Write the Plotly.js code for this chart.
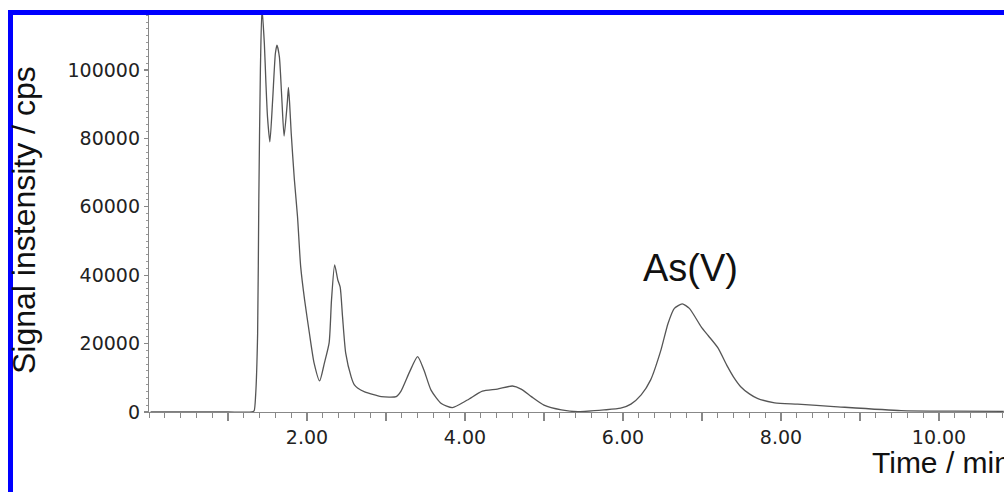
<!DOCTYPE html>
<html>
<head>
<meta charset="utf-8">
<script src="https://cdn.plot.ly/plotly-3.0.1.min.js"></script>
<style>html,body{margin:0;padding:0;background:#fff;}#chart{width:1004px;height:492px;}</style>
</head>
<body>
<div id="chart"></div>
<script>
// Retention time (min)
var time = [0.02, 0.6, 1.0, 1.30, 1.33, 1.35, 1.375, 1.39, 1.41, 1.43, 1.46, 1.48, 1.50, 1.53,
  1.565, 1.60, 1.62, 1.65, 1.68, 1.71, 1.75, 1.765, 1.78, 1.80, 1.84, 1.88, 1.92, 1.97,
  2.03, 2.09, 2.16, 2.22, 2.28, 2.31, 2.35, 2.39, 2.42, 2.45, 2.49, 2.56, 2.60, 2.64,
  2.73, 2.94, 3.13, 3.19, 3.30, 3.40, 3.48, 3.57, 3.70, 3.84, 4.03, 4.22, 4.41, 4.60,
  4.71, 4.84, 5.00, 5.22, 5.43, 5.76, 5.97, 6.10, 6.23, 6.35, 6.48, 6.57, 6.65, 6.75,
  6.84, 6.99, 7.08, 7.20, 7.32, 7.40, 7.49, 7.60, 7.70, 7.92, 8.21, 8.67, 9.52, 10.2, 10.82];
// Signal intensity (cps)
var signal = [0, 0, 0, 0, 300, 5000, 23000, 62000, 100000, 118000, 107800, 96200, 86300, 79000,
  91200, 104900, 107300, 103900, 92200, 80700, 90300, 94900, 90300, 81600, 68000, 57100, 42500, 32700,
  23100, 14300, 9100, 14300, 20200, 32700, 43000, 38600, 36500, 27800, 17200, 10200, 7900, 7000,
  5900, 4500, 4500, 6100, 11800, 16200, 12300, 6400, 2500, 1300, 3500, 6100, 6700, 7600,
  6700, 4500, 2000, 600, 100, 600, 1100, 2300, 5000, 9400, 18100, 25900, 30300, 31600,
  30300, 24900, 22300, 18800, 13400, 10200, 7400, 5300, 4000, 2700, 2300, 1600, 400, 250, 200];
// Tick labels
var xTickVals = [1, 2, 3, 4, 5, 6, 7, 8, 9, 10];
var xTickText = ['', '2.00', '', '4.00', '', '6.00', '', '8.00', '', '10.00'];
var yTickVals = [0, 20000, 40000, 60000, 80000, 100000];
var yTickText = ['0', '20000', '40000', '60000', '80000', '100000'];

var L = 149, T = 12, W = 1004, H = 492, B = 80;
var pw = W - L, ph = H - T - B;
function px(x) { return (x - L) / pw; }
function py(y) { return (H - B - y) / ph; }

var trace = {
  x: time, y: signal, type: 'scatter', mode: 'lines',
  line: {color: '#555555', width: 1.3, shape: 'spline', smoothing: 0.6},
  hoverinfo: 'skip', cliponaxis: true
};

var tickFont = {family: 'DejaVu Sans, sans-serif', size: 19, color: '#222'};
var layout = {
  width: W, height: H, autosize: false,
  margin: {l: L, r: 0, t: T, b: B, pad: 0},
  paper_bgcolor: '#fff', plot_bgcolor: '#fff',
  showlegend: false,
  xaxis: {
    range: [0, pw / 79], showgrid: false, zeroline: false,
    showline: true, linecolor: '#888', linewidth: 1.2,
    tickmode: 'array', tickvals: xTickVals, ticktext: xTickText,
    ticks: 'outside', ticklen: 8, tickcolor: '#888', tickwidth: 1.2,
    minor: {dtick: 0.2, tick0: 0, ticks: 'outside', ticklen: 5, tickcolor: '#888', tickwidth: 1},
    tickfont: tickFont, fixedrange: true
  },
  yaxis: {
    range: [0, ph * 292.4], showgrid: false, zeroline: false,
    showline: true, linecolor: '#888', linewidth: 1.2,
    tickmode: 'array', tickvals: yTickVals, ticktext: yTickText,
    ticks: 'outside', ticklen: 4, tickcolor: '#888', tickwidth: 1.2,
    minor: {dtick: 2000, tick0: 0, ticks: 'outside', ticklen: 2, tickcolor: '#999', tickwidth: 1},
    tickfont: tickFont, fixedrange: true
  },
  annotations: [
    {text: 'Signal instensity / cps', xref: 'paper', yref: 'paper', x: px(24), y: py(220),
     xanchor: 'center', yanchor: 'middle', textangle: -90, showarrow: false,
     font: {family: 'Liberation Sans, Arial, sans-serif', size: 32, color: '#111'}},
    {text: 'As(V)', xref: 'x', yref: 'y', x: 6.85, y: 42100,
     xanchor: 'center', yanchor: 'middle', showarrow: false,
     font: {family: 'Liberation Sans, Arial, sans-serif', size: 38, color: '#111'}},
    {text: 'Time / min', xref: 'paper', yref: 'paper', x: px(870), y: py(462),
     xanchor: 'left', yanchor: 'middle', showarrow: false,
     font: {family: 'Liberation Sans, Arial, sans-serif', size: 30, color: '#111'}}
  ],
  shapes: [
    {type: 'rect', xref: 'paper', yref: 'paper', x0: px(8), x1: px(13), y0: py(492), y1: py(10),
     fillcolor: '#0000ff', line: {width: 0}, layer: 'above'},
    {type: 'rect', xref: 'paper', yref: 'paper', x0: px(8), x1: px(1004), y0: py(15), y1: py(10),
     fillcolor: '#0000ff', line: {width: 0}, layer: 'above'}
  ]
};

Plotly.newPlot('chart', [trace], layout, {displayModeBar: false, staticPlot: true});
</script>
</body>
</html>
